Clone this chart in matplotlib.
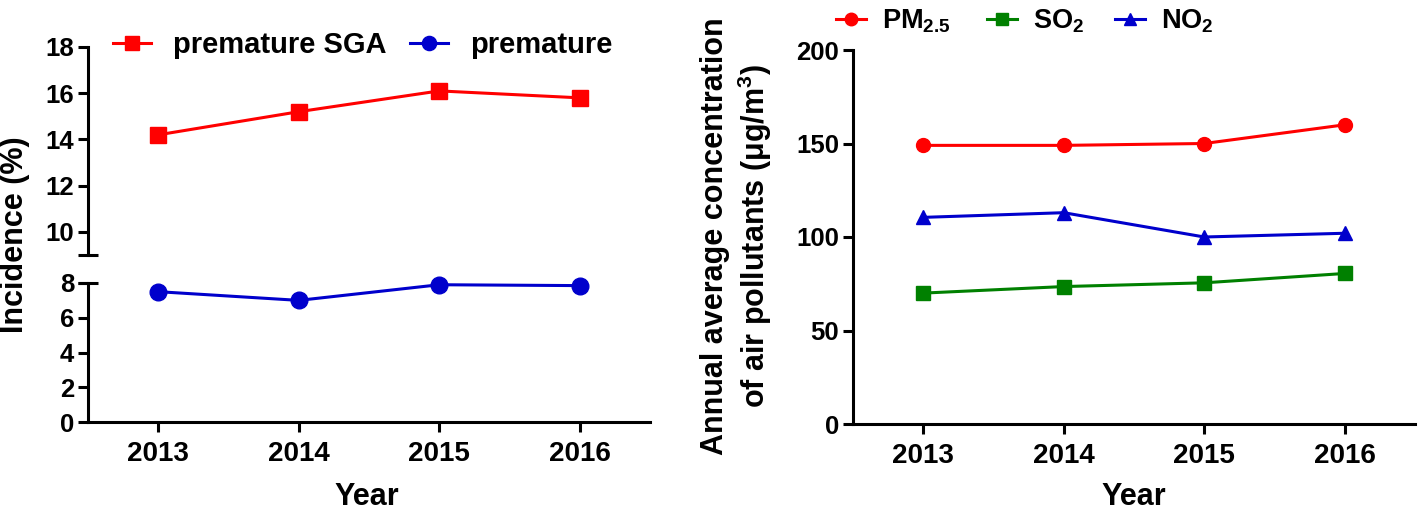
import matplotlib
matplotlib.use("Agg")
import matplotlib.pyplot as plt
import matplotlib.transforms as mtransforms

plt.rcParams['font.family'] = ['Liberation Sans', 'DejaVu Sans']
plt.rcParams['font.weight'] = 'bold'
plt.rcParams['mathtext.fontset'] = 'custom'
plt.rcParams['mathtext.rm'] = 'Liberation Sans:bold'
plt.rcParams['mathtext.it'] = 'Liberation Sans:bold'
plt.rcParams['mathtext.bf'] = 'Liberation Sans:bold'

years = [2013, 2014, 2015, 2016]
premature_sga = [14.2, 15.2, 16.1, 15.8]
premature = [7.5, 7.0, 7.9, 7.85]
pm25 = [149, 149, 150, 160]
so2 = [70, 73.5, 75.5, 80.5]
no2 = [110.5, 113, 100, 102]
pollutant_labels = ['PM$_{2.5}$', 'SO$_2$', 'NO$_2$']
incidence_labels = ['premature SGA', 'premature']

W, H = 1418, 514
fig = plt.figure(figsize=(W / 100, H / 100), dpi=100)

def rect(l, t, r, b):
    return [l / W, 1 - b / H, (r - l) / W, (b - t) / H]

LW = 2.2
XTICKFS = 20
YTICKFS = 18.5
LABFS = 22

ax_top = fig.add_axes(rect(88, 47, 650, 255))
ax_bot = fig.add_axes(rect(88, 283, 650, 422))
ax_r = fig.add_axes(rect(853, 50, 1415, 424))

for ax in (ax_top, ax_bot, ax_r):
    for s in ('top', 'right'):
        ax.spines[s].set_visible(False)
    for s in ('left', 'bottom'):
        ax.spines[s].set_linewidth(LW)
    ax.tick_params(axis='y', width=LW, length=7, labelsize=YTICKFS, pad=3)
    ax.tick_params(axis='x', width=LW, length=7.5, labelsize=XTICKFS, pad=6)
    ax.set_xlim(2012.5, 2016.5)
    ax.set_xticks(years)

ax_top.spines['bottom'].set_visible(False)
ax_top.tick_params(axis='x', bottom=False, labelbottom=False)
ax_top.set_ylim(9, 18)
ax_top.set_yticks([10, 12, 14, 16, 18])
ax_bot.set_ylim(0, 8)
ax_bot.set_yticks([0, 2, 4, 6, 8])
ax_r.set_ylim(0, 200)
ax_r.set_yticks([0, 50, 100, 150, 200])

for ax in (ax_top, ax_bot, ax_r):
    for lab in ax.get_xticklabels() + ax.get_yticklabels():
        lab.set_fontweight('bold')

# break marks
for ax, yv in ((ax_top, 9), (ax_bot, 8)):
    tr = mtransforms.blended_transform_factory(ax.transAxes, ax.transData)
    ax.plot([-0.018, 0.018], [yv, yv], color='black', lw=LW, transform=tr,
            clip_on=False, solid_capstyle='butt')

l1, = ax_top.plot(years, premature_sga, color='#ff0000', lw=LW, marker='s',
                  markersize=12, clip_on=False)
l2, = ax_bot.plot(years, premature, color='#0000cc', lw=LW, marker='o',
                  markersize=12, clip_on=False)

fig.text(367 / W, 1 - 497 / H, 'Year', fontsize=LABFS, fontweight='bold',
         ha='center', va='center')
fig.text(15 / W, 1 - 235 / H, 'Incidence (%)', rotation=90, fontsize=LABFS,
         fontweight='bold', ha='center', va='center')

for handle, label, x0 in zip([l1, l2], incidence_labels, [113, 410]):
    fig.legend([handle], [label], loc='center left',
               bbox_to_anchor=(x0 / W, 1 - 45 / H), frameon=False,
               fontsize=21, handlelength=1.3, handletextpad=0.75,
               borderaxespad=0, borderpad=0, markerscale=0.85)

# right chart
r1, = ax_r.plot(years, pm25, color='#ff0000', lw=LW, marker='o', markersize=10,
                clip_on=False)
r2, = ax_r.plot(years, so2, color='#008000', lw=LW, marker='s', markersize=10,
                clip_on=False)
r3, = ax_r.plot(years, no2, color='#0000cc', lw=LW, marker='^', markersize=10,
                clip_on=False)

fig.text(1134 / W, 1 - 497 / H, 'Year', fontsize=LABFS, fontweight='bold',
         ha='center', va='center')
fig.text(737 / W, 1 - 236 / H,
         'Annual average concentration\nof air pollutants (μg/m$^3$)',
         rotation=90, fontsize=22, fontweight='bold', ha='center',
         va='center', linespacing=1.2, multialignment='center')

for handle, label, x0 in zip([r1, r2, r3], pollutant_labels, [836, 987, 1115]):
    fig.legend([handle], [label], loc='center left',
               bbox_to_anchor=(x0 / W, 1 - 21 / H), frameon=False,
               fontsize=19.5, handlelength=1.1, handletextpad=0.6,
               borderaxespad=0, borderpad=0, markerscale=0.9)

fig.savefig('out.png', dpi=100)
